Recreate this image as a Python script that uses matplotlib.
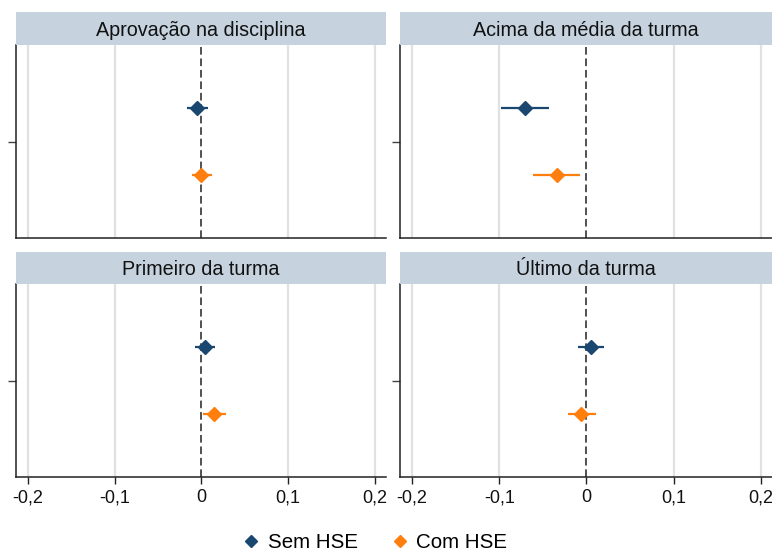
import numpy as np
import matplotlib.pyplot as plt
from matplotlib.lines import Line2D

plt.rcParams['font.family'] = ['Liberation Sans', 'DejaVu Sans']

# Coeficientes e intervalos de confiança por desfecho
paineis = ['Aprovação na disciplina', 'Acima da média da turma',
           'Primeiro da turma', 'Último da turma']

sem_hse_coef = [-0.005, -0.070, 0.004, 0.005]
sem_hse_lo = [-0.017, -0.098, -0.008, -0.010]
sem_hse_hi = [0.008, -0.043, 0.016, 0.020]

com_hse_coef = [0.000, -0.034, 0.015, -0.006]
com_hse_lo = [-0.011, -0.061, 0.0015, -0.021]
com_hse_hi = [0.012, -0.007, 0.028, 0.011]

xticks = [-0.2, -0.1, 0.0, 0.1, 0.2]
xticklabels = ['-0,2', '-0,1', '0', '0,1', '0,2']

cor_sem = '#1a476f'
cor_com = '#ff7f0e'
cor_faixa = '#c6d3df'

W, H = 772, 553
fig = plt.figure(figsize=(W / 100, H / 100), dpi=100)

# caixas em pixels: (esquerda, direita, topo da faixa, topo do gráfico, base)
caixas = [
    (16, 386, 12, 45, 238),
    (400, 772, 12, 45, 238),
    (16, 386, 252, 284, 477),
    (400, 772, 252, 284, 477),
]

for i, (x0, x1, ts, ta, b) in enumerate(caixas):
    ax = fig.add_axes([x0 / W, 1 - b / H, (x1 - x0) / W, (b - ta) / H])
    faixa = fig.add_axes([x0 / W, 1 - ta / H, (x1 - x0) / W, (ta - ts) / H])
    faixa.set_facecolor(cor_faixa)
    faixa.set_xticks([])
    faixa.set_yticks([])
    for s in faixa.spines.values():
        s.set_visible(False)
    faixa.text(0.5, 0.45, paineis[i], ha='center', va='center',
               fontsize=14.2, color='#111111', transform=faixa.transAxes)

    ax.set_xlim(-0.2138, 0.2127)
    ax.set_ylim(-2.92, 2.92)
    for xt in xticks:
        if xt != 0:
            ax.axvline(xt, color='#e1e1e1', lw=1.6, zorder=0)
    ax.axvline(0, color='#222222', lw=1.1, ls=(0, (5, 2.5)), zorder=1)

    ax.errorbar(sem_hse_coef[i], 1,
                xerr=[[sem_hse_coef[i] - sem_hse_lo[i]], [sem_hse_hi[i] - sem_hse_coef[i]]],
                fmt='D', color=cor_sem, ms=7, elinewidth=1.6, capsize=0, zorder=3)
    ax.errorbar(com_hse_coef[i], -1,
                xerr=[[com_hse_coef[i] - com_hse_lo[i]], [com_hse_hi[i] - com_hse_coef[i]]],
                fmt='D', color=cor_com, ms=7, elinewidth=1.6, capsize=0, zorder=3)

    for lado in ['top', 'right']:
        ax.spines[lado].set_visible(False)
    for lado in ['left', 'bottom']:
        ax.spines[lado].set_color('#222222')
        ax.spines[lado].set_linewidth(1.1)

    ax.set_yticks([0])
    ax.set_yticklabels([''])
    ax.tick_params(axis='y', length=6, width=1, color='#444444')
    ax.set_xticks(xticks)
    if i >= 2:
        ax.set_xticklabels(xticklabels, fontsize=13, color='#111111')
        ax.tick_params(axis='x', length=5, width=1, color='#222222', pad=4)
    else:
        ax.set_xticklabels([])
        ax.tick_params(axis='x', length=0)

handles = [
    Line2D([], [], marker='D', ls='none', color=cor_sem, ms=6.5, label='Sem HSE'),
    Line2D([], [], marker='D', ls='none', color=cor_com, ms=6.5, label='Com HSE'),
]
fig.legend(handles=handles, loc='center', bbox_to_anchor=(374 / W, 1 - 543 / H),
           ncol=2, frameon=False, fontsize=14.8, handletextpad=0.3,
           columnspacing=1.55, handlelength=1.0)

fig.savefig('out.png', dpi=100)
